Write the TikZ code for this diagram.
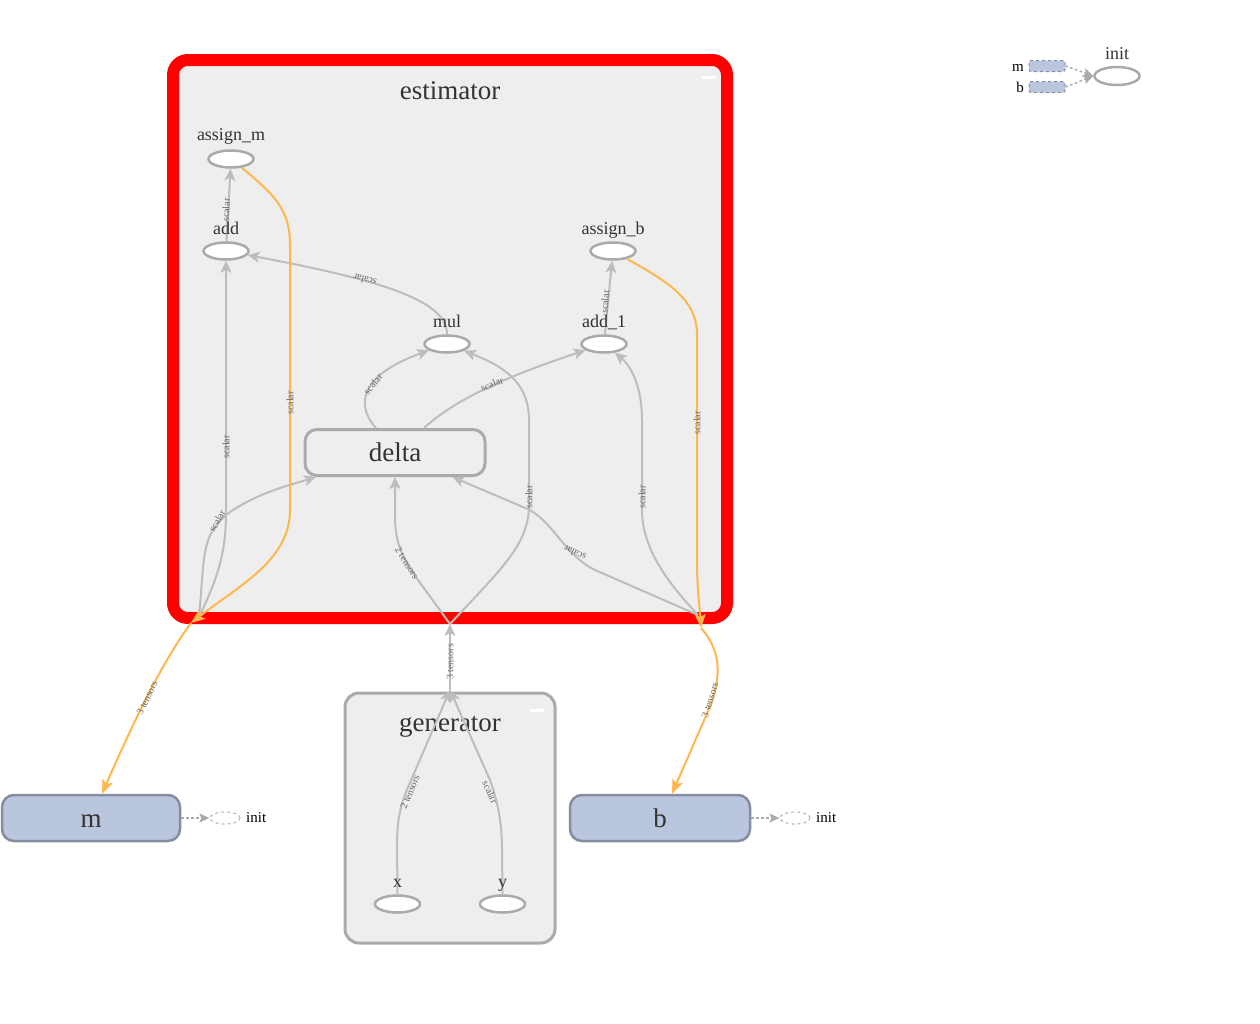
\documentclass[tikz,border=0pt]{standalone}
\usepackage{fontspec}
\setmainfont{Liberation Serif}
\usetikzlibrary{arrows.meta,shapes.geometric,calc}

\definecolor{edgegray}{HTML}{BDBDBD}
\definecolor{opgray}{HTML}{AAAAAA}
\definecolor{refedge}{HTML}{FFB74D}
\definecolor{panel}{HTML}{EEEEEE}
\definecolor{ink}{HTML}{333333}
\definecolor{lblink}{HTML}{666666}
\definecolor{varfill}{HTML}{BAC5DE}
\definecolor{varline}{HTML}{868D9E}

\newcommand{\fsz}[1]{\fontsize{#1}{#1}\selectfont}

\begin{document}
\begin{tikzpicture}[x=1pt,y=-1pt,
  op/.style={ellipse, draw=opgray, line width=2.5pt, fill=white,
    minimum width=45pt, minimum height=17pt, inner sep=0pt},
  oplbl/.style={anchor=base, text=ink, font=\fsz{18}, inner sep=0pt},
  title/.style={anchor=base, text=ink, font=\fsz{27}, inner sep=0pt},
  bigbox/.style={rounded corners=12pt, minimum width=180pt, minimum height=46pt,
    inner sep=0pt, text height=18.5pt, text depth=0pt, text=ink, font=\fsz{27}},
  varbox/.style={bigbox, draw=varline, line width=2.5pt, fill=varfill},
  flow/.style={draw=edgegray, line width=2pt,
    -{Stealth[length=12pt,width=11pt,inset=3pt]}},
  refflow/.style={draw=refedge, line width=2pt,
    -{Stealth[length=14pt,width=11pt,inset=3pt]}},
  initflow/.style={draw=opgray, line width=1.5pt, dash pattern=on 2.5pt off 2.5pt,
    -{Stealth[length=10pt,width=9pt,inset=2pt]}},
  initop/.style={ellipse, draw=edgegray, line width=1.2pt, dashed, fill=white,
    minimum width=30pt, minimum height=12pt, inner sep=0pt},
  elbl/.style={text=lblink, font=\fsz{10}, inner sep=0pt},
  sidelbl/.style={anchor=west, text=black, font=\fsz{15}, inner sep=0pt},
]
\useasboundingbox (0,0) rectangle (1260,1023);

% ---- namespaces ----
\node[draw=red, line width=12pt, fill=panel, rounded corners=15pt,
      minimum width=554pt, minimum height=558pt, inner sep=0pt] (estimator) at (450,339) {};
\node[title] (estimatorTitle) at (450,99) {estimator};
\fill[white] (702,76) rectangle (716,79);

\node[draw=opgray, line width=3pt, fill=panel, rounded corners=14pt,
      minimum width=210pt, minimum height=250pt, inner sep=0pt] (generator) at (450,818) {};
\node[title] (generatorTitle) at (450,731) {generator};
\fill[white] (530,709) rectangle (544,712);

% ---- operations ----
\node[op] (assign_m) at (231,159) {};
\node[op] (add) at (226,251) {};
\node[op] (assign_b) at (613,251) {};
\node[op] (mul) at (447,344) {};
\node[op] (add_1) at (604,344) {};
\node[bigbox, draw=opgray, line width=3pt, fill=panel] (delta) at (395,452.5) {delta};

\node[op] (x) at (397.5,904) {};
\node[op] (y) at (502.5,904) {};

% ---- variables ----
\node[varbox, minimum width=178pt] (m) at (91,818) {m};
\node[varbox] (b) at (660,818) {b};
\node[initop] (minit) at (225,818) {};
\node[sidelbl] (minitText) at (246,818) {init};
\node[initop] (binit) at (795,818) {};
\node[sidelbl] (binitText) at (816,818) {init};
\draw[initflow] (m.east) -- (minit.west);
\draw[initflow] (b.east) -- (binit.west);

% ---- hub points on the namespace borders ----
\coordinate (hubL) at (199,617);
\coordinate (hubLin) at (191,623);
\coordinate (hubM) at (450,624);
\coordinate (hubR) at (698,615);
\coordinate (hubRin) at (701,628);
\coordinate (genTop) at (450,690);

% ---- data edges ----
\draw[flow] (add) -- (assign_m);
\draw[flow] (mul.north) .. controls (447,300) and (380,280) .. (add);
\draw[flow] ($(delta.north)+(-19,0)$) .. controls (355,405) and (360,375) .. (mul);
\draw[flow] ($(delta.north)+(29,0)$) .. controls (460,395) and (520,372) .. (add_1);
\draw[flow] (add_1) -- (assign_b);
\draw[flow] (hubL) .. controls (222,570) and (226,545) .. (226,510) -- (add);
\draw[flow] (hubL) .. controls (205,555) and (200,535) .. (230,512)
                   .. controls (260,492) and (290,485) .. (delta);
\draw[flow] (hubR) .. controls (670,585) and (642,550) .. (642,510) -- (642,420)
                   .. controls (642,385) and (630,365) .. (add_1);
\draw[flow] (hubR) -- (595,570) .. controls (565,555) and (555,525) .. (530,510) -- (delta);
\draw[flow] (hubM) -- (418,580) .. controls (400,555) and (395,540) .. (395,515) -- (delta);
\draw[flow] (hubM) .. controls (500,570) and (529,545) .. (529,505) -- (529,420)
                   .. controls (529,380) and (500,365) .. (mul);
\draw[flow] (genTop) -- (hubM);
\draw[flow] (x.north) -- (397,845) .. controls (397,815) and (402,800) .. (412,778) -- (genTop);
\draw[flow] (y.north) -- (502,850) .. controls (502,820) and (497,800) .. (490,780) -- (genTop);

% ---- reference edges ----
\draw[refflow] (assign_m) .. controls (275,195) and (290,210) .. (290,245) -- (290,510)
                          .. controls (290,560) and (240,585) .. (hubLin);
\draw[refflow] (hubLin) .. controls (160,665) and (130,730) .. ($(m.north)+(11,0)$);
\draw[refflow] (assign_b) .. controls (670,283) and (697,300) .. (697,335) -- (697,560)
                          .. controls (697,590) and (700,610) .. (hubRin);
\draw[refflow] (hubRin) .. controls (725,655) and (720,685) .. (705,718) -- ($(b.north)+(12,0)$);

% ---- operation names, drawn over the edges ----
\node[oplbl] (assign_mText) at (231,140) {assign\_m};
\node[oplbl] (addText) at (226,234) {add};
\node[oplbl] (assign_bText) at (613,234) {assign\_b};
\node[oplbl] (mulText) at (447,327) {mul};
\node[oplbl] (add_1Text) at (604,327) {add\_1};
\node[oplbl] (xText) at (397.5,887) {x};
\node[oplbl] (yText) at (502.5,887) {y};

% ---- edge labels ----
\node[elbl, rotate=88] (l1) at (226,210) {scalar};
\node[elbl, rotate=165] (l2) at (365,280) {scalar};
\node[elbl, rotate=50] (l3) at (373,384) {scalar};
\node[elbl, rotate=22] (l4) at (492,384) {scalar};
\node[elbl, rotate=86] (l5) at (605,302) {scalar};
\node[elbl, rotate=90] (l6) at (226,447) {scalar};
\node[elbl, rotate=60] (l7) at (217,521) {scalar};
\node[elbl, rotate=90] (l8) at (290,403) {scalar};
\node[elbl, rotate=64] (l9) at (147,698) {3 tensors};
\node[elbl, rotate=-58] (l10) at (407,563) {2 tensors};
\node[elbl, rotate=90] (l11) at (529,497) {scalar};
\node[elbl, rotate=90] (l12) at (642,497) {scalar};
\node[elbl, rotate=155] (l13) at (575,553) {scalar};
\node[elbl, rotate=90] (l14) at (697,423) {scalar};
\node[elbl, rotate=72] (l15) at (710,700) {3 tensors};
\node[elbl, rotate=90] (l16) at (450,662) {3 tensors};
\node[elbl, rotate=67] (l17) at (410,792) {2 tensors};
\node[elbl, rotate=-66] (l18) at (490,792) {scalar};

% ---- auxiliary init group ----
\node[op, minimum height=18pt] (initAux) at (1117,76) {};
\node[oplbl] (initAuxText) at (1117,59) {init};
\node[draw=varline, line width=1pt, dashed, fill=varfill, rounded corners=2pt,
      minimum width=36pt, minimum height=11pt, inner sep=0pt] (mAux) at (1047,66) {};
\node[draw=varline, line width=1pt, dashed, fill=varfill, rounded corners=2pt,
      minimum width=36pt, minimum height=11pt, inner sep=0pt] (bAux) at (1047,87) {};
\node[anchor=base, font=\fsz{15}, inner sep=0pt] (mAuxText) at (1018,71) {m};
\node[anchor=base, font=\fsz{15}, inner sep=0pt] (bAuxText) at (1020,92) {b};
\draw[initflow] (mAux.east) -- (initAux.west);
\draw[initflow] (bAux.east) -- (initAux.west);
\end{tikzpicture}
\end{document}
